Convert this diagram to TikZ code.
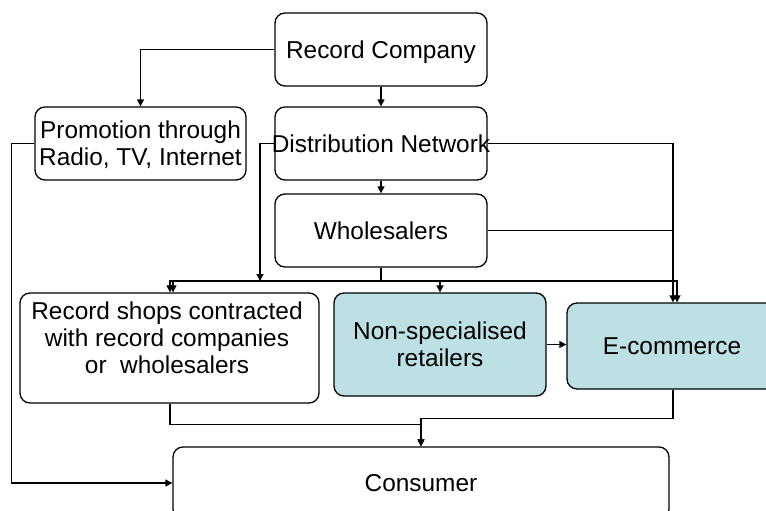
\documentclass[tikz,border=0pt]{standalone}
\usepackage{fontspec}
\setmainfont{Liberation Sans}
\usetikzlibrary{arrows.meta,calc}
\definecolor{paleteal}{RGB}{188,224,227}
\begin{document}
\begin{tikzpicture}[x=1pt,y=-1pt,
  box/.style={draw, line width=1.3pt, rounded corners=10pt, inner sep=0pt,
    align=center, text depth=0pt, font=\fontsize{24.4pt}{27pt}\selectfont},
  tinted/.style={box, fill=paleteal},
  txt/.style={inner sep=0pt, align=center, font=\fontsize{24.4pt}{27pt}\selectfont},
  link/.style={line width=1.3pt},
  arr/.style={link, -{Triangle[length=7pt,width=7pt]}}]
\useasboundingbox (0,0) rectangle (766,511);
\clip (0,0) rectangle (766,511);

% boxes
\node[box, minimum width=212pt, minimum height=73pt] (rc) at (381,49.5) {Record Company};
\node[box, minimum width=211pt, minimum height=73pt] (promo) at (140.5,143.5) {\vspace*{3pt}Promotion through\\Radio, TV, Internet};
\node[box, minimum width=212pt, minimum height=73pt] (dist) at (381,143.5) {\makebox[0pt]{Distribution Network}};
\node[box, minimum width=212pt, minimum height=73pt] (whs) at (381,230.5) {Wholesalers};
\node[box, minimum width=299pt, minimum height=110pt] (shops) at (169.5,348) {};
\node[txt] (shopstext) at (167,338) {Record shops contracted\\with record companies\\or\ \ wholesalers};
\node[tinted, minimum width=212pt, minimum height=103pt] (retail) at (440,344.5) {\vspace*{4pt}Non-specialised\\retailers};
\node[tinted, minimum width=210pt, minimum height=86pt] (ecom) at (672,346) {E-commerce};
\node[box, minimum width=496pt, minimum height=72pt] (cons) at (421,483) {Consumer};

% junctions on the distribution bus and the right-hand riser
\coordinate (busD) at (260,281);
\coordinate (bus) at (381,281);
\coordinate (riser) at ([xshift=1pt]ecom.north);

% connectors
\draw[arr] (rc.west) -| (promo.north);
\draw[arr] (rc.south) -- (dist.north);
\draw[arr] (dist.south) -- (whs.north);
\draw[arr] (dist.west) -| (busD);
\draw[arr] (busD) -| ([xshift=0.5pt]shops.north);
\draw[link] (whs.south) -- (bus);
\draw[arr] (bus) -| ([xshift=3.5pt]shops.north);
\draw[arr] (bus) -| (retail.north);
\draw[arr] (bus) -| ([xshift=5pt]ecom.north);
\draw[arr] (dist.east) -| (riser);
\draw[link] (whs.east) -- (whs.east -| riser);
\draw[arr] (retail.east) -- (retail.east -| ecom.west);
\draw[arr] ([xshift=0.5pt]shops.south) -- ++(0,21) -| (cons.north);
\draw[arr] ([xshift=1pt]ecom.south) -- ++(0,29) -| (cons.north);
\draw[arr] (promo.west) -- ++(-23,0) |- (cons.west);
\end{tikzpicture}
\end{document}
